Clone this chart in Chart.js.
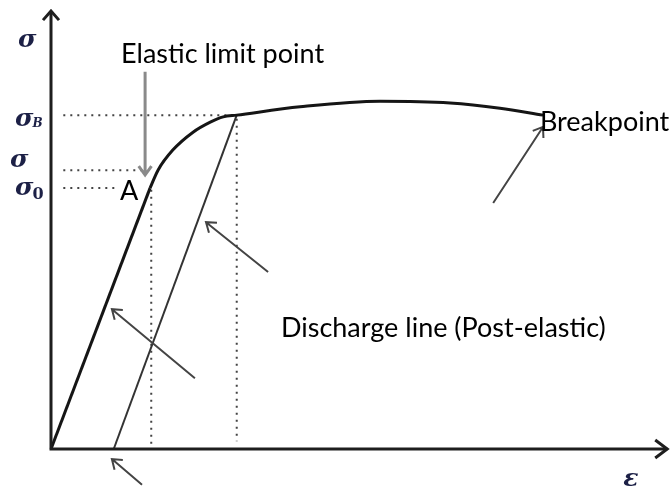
<!DOCTYPE html>
<html>
<head>
<meta charset="utf-8">
<script src="https://cdn.jsdelivr.net/npm/chart.js@4/dist/chart.umd.min.js"></script>
<style>
  html, body { margin: 0; padding: 0; background: #fff; }
  #wrap { width: 672px; height: 487px; }
</style>
</head>
<body>
<div id="wrap"><canvas id="c" width="672" height="487"></canvas></div>
<script>
// Stress–strain diagram (ε on x, σ on y), both axes in relative units 0..100.

// Elastic (linear) part: origin up to point A
const elasticStrain = [0, 16.1];
const elasticStress = [0, 59.7];

// Plastic part: from A through σB to the breakpoint
const plasticStrain = [16.1, 17.4, 19.8, 23.1, 25.9, 28.0, 30.2, 40.5, 53.5, 64.9, 73.0, 80.0];
const plasticStress = [59.7, 63.8, 68.4, 72.5, 74.8, 76.0, 76.4, 78.3, 79.6, 79.2, 78.0, 76.4];

// Unloading (discharge) line from σB back to the strain axis
const dischargeStrain = [30.2, 10.2];
const dischargeStress = [76.4, 0];

// Characteristic levels
const sigmaB = 76.4;        // ultimate stress
const sigmaE = 63.8;        // elastic limit
const sigma0 = 59.7;        // proportional limit (point A)
const epsA = 16.3;
const epsB = 30.2;

// Axis extents
const axisMax = 100.2;

// Annotation arrows: [tailX, tailY, headX, headY, color, width]
const arrows = [
  [15.3, 86.3, 15.3, 62.7, '#8a8a8a', 3],
  [71.9, 56.3, 80.0, 73.7, '#444', 2],
  [35.3, 40.5, 25.2, 51.9, '#444', 2],
  [23.4, 16.2, 9.9, 32.0, '#444', 2],
  [14.8, -8.2, 9.9, -2.3, '#444', 2]
];

// Text labels (baseline position): [text, x, y, align]
const labels = [
  ['Elastic limit point', 27.9, 88.3, 'center'],
  ['Breakpoint', 79.5, 72.8, 'left'],
  ['Discharge line (Post-elastic)', 63.8, 25.6, 'center'],
  ['A', 12.7, 57.0, 'center']
];

// Stress-axis symbols: [symbol, subscript, centre level (σ units), pixel offset left of axis]
const stressSymbols = [
  ['σ', '', 94.1, 33],
  ['σ', 'B', 76.0, 36],
  ['σ', '', 66.8, 41],
  ['σ', '0', 60.4, 36]
];

const toPts = (xs, ys) => xs.map((x, i) => ({ x, y: ys[i] }));

const dotted = (pts) => ({
  data: pts, showLine: true, pointRadius: 0, borderColor: '#444',
  borderWidth: 2, borderDash: [2, 5], tension: 0, clip: false
});

const overlay = {
  id: 'overlay',
  afterDraw(chart) {
    const ctx = chart.ctx;
    const xs = chart.scales.x, ys = chart.scales.y;
    const px = v => xs.getPixelForValue(v);
    const py = v => ys.getPixelForValue(v);
    ctx.save();

    // axes with arrowheads
    ctx.strokeStyle = '#1e1e1e';
    ctx.lineWidth = 3;
    ctx.lineCap = 'butt';
    ctx.beginPath();
    ctx.moveTo(px(0), py(axisMax));
    ctx.lineTo(px(0), py(0));
    ctx.lineTo(px(axisMax), py(0));
    ctx.stroke();
    ctx.lineJoin = 'miter';
    ctx.beginPath();
    ctx.moveTo(px(0) - 8, py(axisMax) + 9);
    ctx.lineTo(px(0), py(axisMax));
    ctx.lineTo(px(0) + 8, py(axisMax) + 9);
    ctx.moveTo(px(axisMax) - 12, py(0) - 9);
    ctx.lineTo(px(axisMax), py(0));
    ctx.lineTo(px(axisMax) - 12, py(0) + 9);
    ctx.stroke();

    // annotation arrows
    arrows.forEach(([x1, y1, x2, y2, col, w]) => {
      const ax = px(x1), ay = py(y1), bx = px(x2), by = py(y2);
      const ang = Math.atan2(by - ay, bx - ax);
      const L = 11, spread = 0.62;
      ctx.strokeStyle = col;
      ctx.lineWidth = w;
      ctx.beginPath();
      ctx.moveTo(ax, ay);
      ctx.lineTo(bx, by);
      ctx.moveTo(bx - L * Math.cos(ang - spread), by - L * Math.sin(ang - spread));
      ctx.lineTo(bx, by);
      ctx.lineTo(bx - L * Math.cos(ang + spread), by - L * Math.sin(ang + spread));
      ctx.stroke();
    });

    // text labels
    ctx.fillStyle = '#000';
    ctx.font = '27px Lato, "Open Sans", sans-serif';
    ctx.textBaseline = 'alphabetic';
    labels.forEach(([t, x, y, al]) => {
      ctx.textAlign = al;
      ctx.fillText(t, px(x), py(y));
    });

    // greek symbols on the axes
    ctx.fillStyle = '#1c2046';
    ctx.textBaseline = 'middle';
    ctx.textAlign = 'left';
    const big = 'bold italic 25px "DejaVu Serif", "Liberation Serif", serif';
    const x0 = px(0);
    stressSymbols.forEach(([s, sub, lvl, off]) => {
      const lx = x0 - off, ly = py(lvl);
      ctx.font = big;
      ctx.fillText(s, lx, ly + 3);
      const w = ctx.measureText(s).width;
      if (sub === 'B') {
        ctx.font = 'bold italic 12px "DejaVu Serif", "Liberation Serif", serif';
        ctx.fillText(sub, lx + w - 1, ly + 7);
      } else if (sub) {
        ctx.font = 'bold 16px "DejaVu Serif", "Liberation Serif", serif';
        ctx.fillText(sub, lx + w - 1, ly + 10);
      }
    });
    ctx.font = big;
    ctx.textAlign = 'center';
    ctx.fillText('ε', px(94.3), py(-6.2) + 3);

    ctx.restore();
  }
};

new Chart(document.getElementById('c'), {
  type: 'scatter',
  data: {
    datasets: [
      { data: toPts(elasticStrain, elasticStress), showLine: true, pointRadius: 0,
        borderColor: '#151515', borderWidth: 3, tension: 0, clip: false },
      { data: toPts(plasticStrain, plasticStress), showLine: true, pointRadius: 0,
        borderColor: '#151515', borderWidth: 3, cubicInterpolationMode: 'monotone', clip: false },
      { data: toPts(dischargeStrain, dischargeStress), showLine: true, pointRadius: 0,
        borderColor: '#333', borderWidth: 2, tension: 0, clip: false },
      dotted([{ x: 2, y: sigmaB }, { x: epsB, y: sigmaB }]),
      dotted([{ x: 2, y: sigmaE }, { x: 15.6, y: sigmaE }]),
      dotted([{ x: 2, y: sigma0 }, { x: 10.9, y: sigma0 }]),
      dotted([{ x: epsA, y: sigma0 - 0.4 }, { x: epsA, y: 0.5 }]),
      dotted([{ x: epsB, y: sigmaB - 0.8 }, { x: epsB, y: 1.8 }])
    ]
  },
  options: {
    responsive: false,
    animation: false,
    layout: { padding: { left: 51, right: 6, top: 12, bottom: 38 } },
    plugins: { legend: { display: false }, tooltip: { enabled: false } },
    scales: {
      x: { type: 'linear', min: 0, max: 100, display: false },
      y: { type: 'linear', min: 0, max: 100, display: false }
    }
  },
  plugins: [overlay]
});
</script>
</body>
</html>
